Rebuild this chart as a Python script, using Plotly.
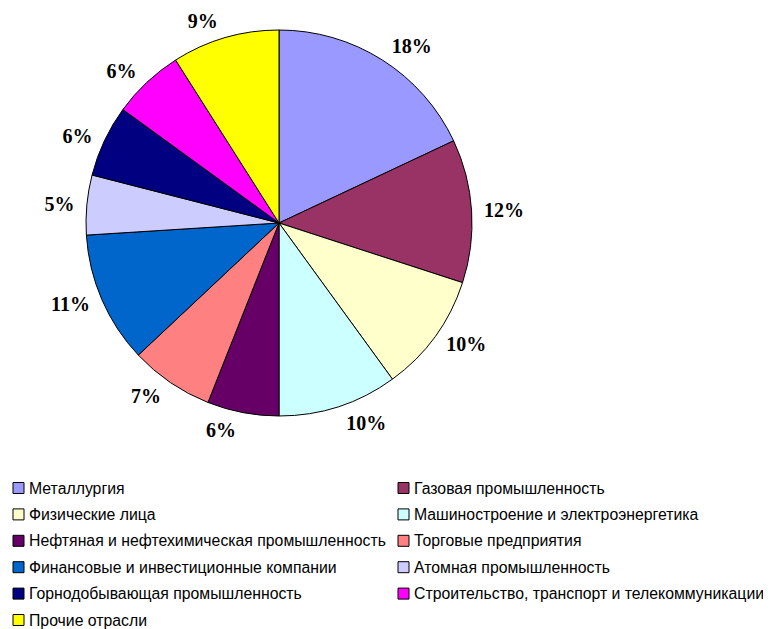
import plotly.graph_objects as go

# page body has an 8px margin; figure sized to fit the 771x629 window
OFF = 8
W, H = 771 - OFF, 629 - OFF

categories = [
    "Металлургия",
    "Газовая промышленность",
    "Физические лица",
    "Машиностроение и электроэнергетика",
    "Нефтяная и нефтехимическая промышленность",
    "Торговые предприятия",
    "Финансовые и инвестиционные компании",
    "Атомная промышленность",
    "Горнодобывающая промышленность",
    "Строительство, транспорт и телекоммуникации",
    "Прочие отрасли",
]
shares = [18, 12, 10, 10, 6, 7, 11, 5, 6, 6, 9]
colors = ["#9999FF", "#993366", "#FFFFCC", "#CCFFFF", "#660066", "#FF8080",
          "#0066CC", "#CCCCFF", "#000080", "#FF00FF", "#FFFF00"]

# screen-pixel geometry
cx, cy, R = 279 - OFF, 223 - OFF, 193
RL = R + 7  # radius used to place outside labels a bit further away


def dom(r):
    return dict(x=[(cx - r) / W, (cx + r) / W], y=[1 - (cy + r) / H, 1 - (cy - r) / H])


fig = go.Figure()
# invisible pie used only to position the percentage labels
fig.add_trace(go.Pie(
    labels=categories, values=shares, sort=False, direction="clockwise", rotation=0,
    marker=dict(colors=["rgba(0,0,0,0)"] * len(shares), line=dict(width=0)),
    textposition="outside", texttemplate="<b>%{percent:.0%}</b>",
    outsidetextfont=dict(family="Liberation Serif, Times New Roman, serif", size=20, color="black"),
    showlegend=False, hoverinfo="skip", automargin=False, domain=dom(RL),
))
# visible pie
fig.add_trace(go.Pie(
    labels=categories, values=shares, sort=False, direction="clockwise", rotation=0,
    marker=dict(colors=colors, line=dict(color="black", width=1)),
    textinfo="none", showlegend=False, hoverinfo="label+percent", domain=dom(R),
))

# custom two-column legend (screen pixels)
col_x = [13, 398]
row_y0, row_dy = 488, 26.4
shapes, annotations = [], []
for i, (name, col) in enumerate(zip(categories, colors)):
    c, r = i % 2, i // 2
    mx = col_x[c] - OFF
    my = row_y0 + r * row_dy - OFF
    shapes.append(dict(type="rect", xref="paper", yref="paper",
                       x0=mx / W, x1=(mx + 11) / W,
                       y0=1 - (my + 5.5) / H, y1=1 - (my - 5.5) / H,
                       fillcolor=col, line=dict(color="black", width=1)))
    annotations.append(dict(xref="paper", yref="paper", x=(mx + 14) / W, y=1 - my / H,
                            xanchor="left", yanchor="middle", showarrow=False, text=name,
                            font=dict(family="Liberation Sans, Arial, sans-serif", size=15.8, color="black")))

fig.update_layout(width=W, height=H,
                  margin=dict(l=0, r=0, t=0, b=0, autoexpand=False),
                  paper_bgcolor="white", plot_bgcolor="white",
                  shapes=shapes, annotations=annotations)
fig.write_html("out.html")
